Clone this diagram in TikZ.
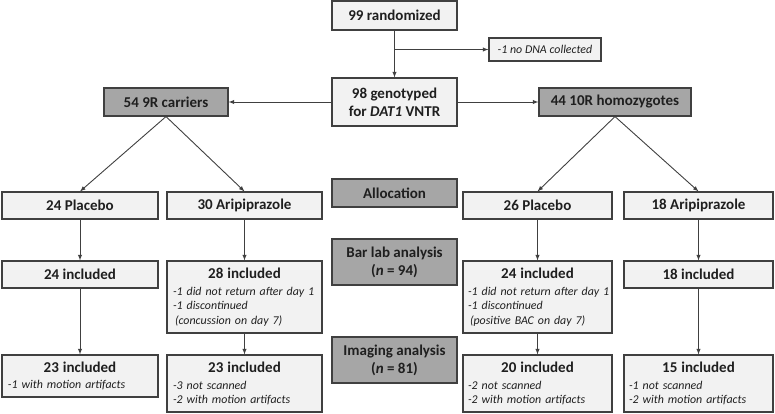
\documentclass[tikz,border=0pt]{standalone}
\usepackage{fontspec}
\setmainfont{Carlito}
\usepackage{xcolor}
\usepackage{tikz}
\usetikzlibrary{positioning,calc}
\definecolor{boxfill}{HTML}{F2F2F2}
\definecolor{darkfill}{HTML}{A6A6A6}
\definecolor{edge}{HTML}{404040}
\newcommand{\boxtitle}[1]{{\centering\fontsize{15}{18}\selectfont\bfseries\upshape #1\par}\vspace{2pt}}
\newcommand{\boxnote}{\fontsize{11.9}{14.5}\selectfont\itshape}

\begin{document}
\begin{tikzpicture}[x=1pt,y=-1pt,
	box/.style={draw=edge,line width=1.1pt,fill=boxfill,inner sep=0pt,text=black!88,font=\fontsize{15}{18}\selectfont\bfseries,align=center},
	grey/.style={box,fill=darkfill},
	note/.style={box,font=\boxnote},
	detail/.style={box,text width=#1,align=left,font=\boxnote},
	link/.style={-latex,line width=0.9pt,draw=edge}]
	\useasboundingbox (0,0) rectangle (775,413);
	% screening
	\node[box,minimum width=125pt,minimum height=29pt] (rand) at (394.5,15.5) {99 randomized};
	\node[note,minimum width=112pt,minimum height=23pt] (nodna) at (545,49.5) {-1 no DNA collected};
	\node[box,minimum width=125pt,minimum height=48pt] (geno) at (394.5,102) {98 genotyped\\for \textit{DAT1} VNTR};
	\node[grey,minimum width=124pt,minimum height=28pt] (car9) at (166,102) {54 9R carriers};
	\node[grey,minimum width=152pt,minimum height=28pt] (hom10) at (615,102) {44 10R homozygotes};
	% stage labels
	\node[grey,minimum width=125pt,minimum height=28pt] (alloc) at (394.5,193) {Allocation};
	\node[grey,minimum width=125pt,minimum height=46pt] (barlab) at (394.5,262) {Bar lab analysis\\(\textit{n} = 94)};
	\node[grey,minimum width=125pt,minimum height=46pt] (imag) at (394.5,360) {Imaging analysis\\(\textit{n} = 81)};
	% allocation
	\node[box,minimum width=156pt,minimum height=27pt] (plac9) at (80,205.5) {24 Placebo};
	\node[box,minimum width=155pt,minimum height=27pt] (ari9) at (244.5,205.5) {30 Aripiprazole};
	\node[box,minimum width=149pt,minimum height=27pt] (plac10) at (537.5,205.5) {26 Placebo};
	\node[box,minimum width=149pt,minimum height=27pt] (ari10) at (698.5,205.5) {18 Aripiprazole};
	% bar lab
	\node[box,minimum width=156pt,minimum height=27pt] (inc9p) at (80,274.5) {24 included};
	\node[detail=143pt,minimum width=155pt,minimum height=72pt] (inc9a) at (244.5,297)
		{\boxtitle{28 included}\mbox{-1 did not return after day 1}\\-1 discontinued\\\hspace*{2pt}(concussion on day 7)};
	\node[detail=139pt,minimum width=149pt,minimum height=72pt] (inc10p) at (537.5,297)
		{\boxtitle{24 included}\mbox{-1 did not return after day 1}\\-1 discontinued\\\hspace*{2pt}(positive BAC on day 7)};
	\node[box,minimum width=149pt,minimum height=27pt] (inc10a) at (698.5,274.5) {18 included};
	% imaging
	\node[detail=144pt,minimum width=156pt,minimum height=42pt] (fin9p) at (80,376)
		{\boxtitle{23 included}-1 with motion artifacts};
	\node[detail=143pt,minimum width=155pt,minimum height=57pt] (fin9a) at (244.5,383.5)
		{\boxtitle{23 included}-3 not scanned\\-2 with motion artifacts};
	\node[detail=139pt,minimum width=149pt,minimum height=57pt] (fin10p) at (537.5,383.5)
		{\boxtitle{20 included}-2 not scanned\\-2 with motion artifacts};
	\node[detail=139pt,minimum width=149pt,minimum height=57pt] (fin10a) at (698.5,383.5)
		{\boxtitle{15 included}-1 not scanned\\-2 with motion artifacts};
	% connectors
	\draw[link] (rand) -- (geno);
	\coordinate (split) at (rand.south |- nodna.west);
	\draw[link] (split) -- (nodna.west);
	\draw[link] (geno.west) -- (car9.east);
	\draw[link] (geno.east) -- (hom10.west);
	\draw[link] (car9.south) -- (plac9.north);
	\draw[link] (car9.south) -- (ari9.north);
	\draw[link] (hom10.south) -- (plac10.north);
	\draw[link] (hom10.south) -- (ari10.north);
	\foreach \a/\b in {plac9/inc9p,ari9/inc9a,plac10/inc10p,ari10/inc10a,inc9p/fin9p,inc9a/fin9a,inc10p/fin10p,inc10a/fin10a}
	\draw[link] (\a.south) -- (\b.north);
\end{tikzpicture}
\end{document}
